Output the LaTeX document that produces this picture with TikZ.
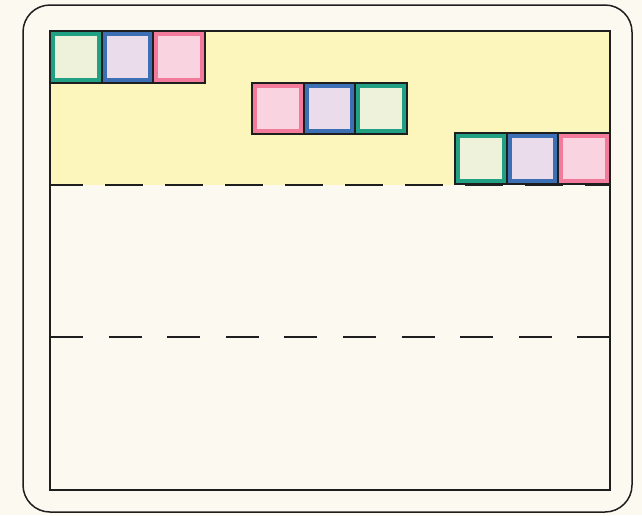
\documentclass[tikz,border=0pt]{standalone}
\usetikzlibrary{calc}
\definecolor{paper}{HTML}{FCFAF0}
\definecolor{band}{HTML}{FDF6BC}
\definecolor{ink}{HTML}{1E1E1E}
\definecolor{gfill}{HTML}{EEF2DA}
\definecolor{gline}{HTML}{22A084}
\definecolor{bfill}{HTML}{EBDCEC}
\definecolor{bline}{HTML}{3C6FB4}
\definecolor{pfill}{HTML}{F9D3DF}
\definecolor{pline}{HTML}{F27A9A}
\tikzset{
  cellbox/.style={minimum width=51.67pt, minimum height=51.5pt, inner sep=0pt, outer sep=0pt, draw=none},
  inset/.style={line width=4pt},
  frameline/.style={draw=ink, line width=1.5pt},
  gridline/.style={draw=ink, line width=1.7pt},
  dashA/.style={draw=ink, line width=1.3pt, dash pattern=on 38pt off 22pt, dash phase=5pt},
  dashB/.style={draw=ink, line width=1.2pt, dash pattern=on 33pt off 25.6pt},
}
\newcommand{\mycell}[5]{%
  \node[cellbox, fill=#4] (#1) at (#2,#3) {};
  \draw[inset, draw=#5] ([shift={(2.9pt,2.9pt)}]#1.south west) rectangle ([shift={(-2.9pt,-2.9pt)}]#1.north east);
  \draw[gridline] (#1.south west) rectangle (#1.north east);
}
\begin{document}
\begin{tikzpicture}[x=1pt, y=-1pt]
  \useasboundingbox (0,0) rectangle (642,515);
  \fill[paper] (0,0) rectangle (642,515);
  % outer rounded frame
  \draw[frameline, rounded corners=27pt] (23,5) rectangle (632,512);
  % yellow band
  \fill[band] (50,31) rectangle (610,185);
  % inner rectangle
  \draw[draw=ink, line width=1.3pt] (50,31) rectangle (610,490);
  % row 1
  \mycell{a1}{75.83}{57}{gfill}{gline}
  \mycell{a2}{127.5}{57}{bfill}{bline}
  \mycell{a3}{179.17}{57}{pfill}{pline}
  % row 2
  \mycell{b1}{277.83}{108.5}{pfill}{pline}
  \mycell{b2}{329.5}{108.5}{bfill}{bline}
  \mycell{b3}{381.17}{108.5}{gfill}{gline}
  % row 3
  \mycell{c1}{480.83}{158.5}{gfill}{gline}
  \mycell{c2}{532.5}{158.5}{bfill}{bline}
  \mycell{c3}{584.17}{158.5}{pfill}{pline}
  % dashed lines
  \coordinate (d1l) at (50,185);
  \coordinate (d1r) at (610,185);
  \coordinate (d2l) at (50,337);
  \coordinate (d2r) at (610,337);
  \draw[dashA] (d1l) -- (d1r);
  \draw[dashB] (d2l) -- (d2r);
\end{tikzpicture}
\end{document}
